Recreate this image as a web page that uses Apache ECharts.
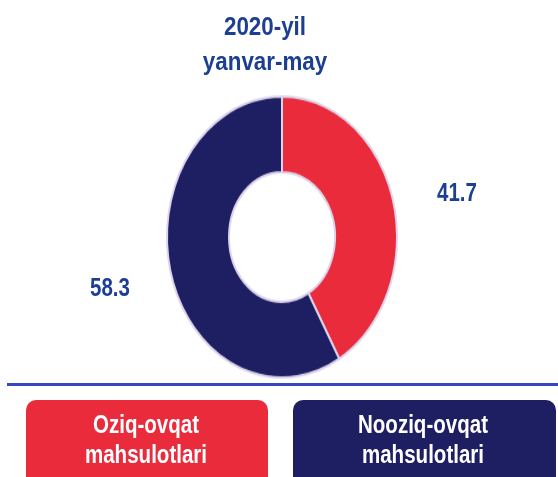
<!DOCTYPE html>
<html><head><meta charset="utf-8">
<script src="https://cdn.jsdelivr.net/npm/echarts@6/dist/echarts.min.js"></script>
<style>
html,body{margin:0;padding:0;background:#fff;}
#main{position:absolute;left:0;top:0;width:558px;height:477px;}
#pie{position:absolute;left:162px;top:116.5px;width:240px;height:240px;transform:scaleY(1.2217);transform-origin:50% 50%;}
</style></head>
<body>
<div id="main"></div>
<div id="pie"></div>
<script>
const titleLines = ['2020-yil', 'yanvar-may'];
const categories = ['Oziq-ovqat\nmahsulotlari', 'Nooziq-ovqat\nmahsulotlari'];
const values = [41.7, 58.3];
const colors = ['#e92b3c', '#1e1f63'];
const FONT = '"Liberation Sans",Arial,sans-serif';
const TXT = '#1d3f91';

function txt(s, x, y, size, fill, sx, lh) {
  return {type:'text', x:x, y:y, scaleX:sx,
    style:{text:s, fill:fill, font:'bold '+size+'px '+FONT, lineHeight:lh||size, textAlign:'center', textVerticalAlign:'middle'}};
}

const main = echarts.init(document.getElementById('main'), null, {renderer:'canvas'});
main.setOption({
  animation:false,
  graphic:[
    txt(titleLines[0], 265, 28, 26, TXT, 0.86),
    txt(titleLines[1], 265, 63, 26, TXT, 0.86),
    txt(values[0].toFixed(1), 457, 194, 25, TXT, 0.82),
    txt(values[1].toFixed(1), 110, 289, 25, TXT, 0.82),
    {type:'rect', shape:{x:7, y:383, width:560, height:3}, style:{fill:'#3548c4'}},
    {type:'rect', shape:{x:26, y:400, width:242, height:95, r:10}, style:{fill:colors[0]}},
    {type:'rect', shape:{x:293, y:400, width:263, height:95, r:10}, style:{fill:colors[1]}},
    txt(categories[0], 146, 441, 26, '#fff', 0.79, 30),
    txt(categories[1], 423, 441, 26, '#fff', 0.79, 30)
  ]
});

const pie = echarts.init(document.getElementById('pie'), null, {renderer:'canvas'});
pie.setOption({
  animation:false,
  series:[{
    type:'pie',
    radius:[53,115],
    center:['50%','50%'],
    startAngle:90,
    clockwise:true,
    label:{show:false},
    labelLine:{show:false},
    itemStyle:{borderColor:'#dcd4ec', borderWidth:2},
    data: values.map((v,i)=>({name:categories[i], value:v, itemStyle:{color:colors[i]}}))
  }]
});
</script>
</body></html>
